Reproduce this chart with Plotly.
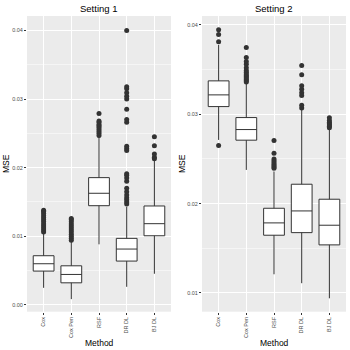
import plotly.graph_objects as go

methods = ["Cox", "Cox Pen", "RSF", "DR DL", "BJ DL"]

# Setting 1 box stats
s1_lower = [0.00248, 0.00083, 0.00882, 0.00263, 0.00453]
s1_q1 = [0.00492, 0.00321, 0.01445, 0.00638, 0.01007]
s1_median = [0.00599, 0.00443, 0.01626, 0.00813, 0.01183]
s1_q3 = [0.00716, 0.00569, 0.01854, 0.00969, 0.01441]
s1_upper = [0.01040, 0.00920, 0.02450, 0.01430, 0.02110]
s1_outliers = {
    "Cox": [0.0106, 0.0109, 0.0112, 0.0115, 0.0118, 0.0121, 0.0124, 0.0127, 0.0130, 0.0133, 0.0136, 0.0138],
    "Cox Pen": [0.0094, 0.0097, 0.0100, 0.0103, 0.0106, 0.0109, 0.0112, 0.0115, 0.0118, 0.0121, 0.0124, 0.0126],
    "RSF": [0.0247, 0.0250, 0.0253, 0.0256, 0.0259, 0.0261, 0.0263, 0.0266, 0.0268, 0.0279],
    "DR DL": [0.0147, 0.0150, 0.0153, 0.0156, 0.0160, 0.0165, 0.0170, 0.0180, 0.0185, 0.0189, 0.0191,
              0.0225, 0.0228, 0.0231, 0.0266, 0.0270, 0.0285, 0.0300, 0.0304, 0.0309, 0.0315, 0.0318, 0.0400],
    "BJ DL": [0.0213, 0.0215, 0.0220, 0.0232, 0.0245],
}

# Setting 2 box stats
s2_lower = [0.02713, 0.02377, 0.01209, 0.01109, 0.00940]
s2_q1 = [0.03086, 0.02710, 0.01646, 0.01675, 0.01538]
s2_median = [0.03217, 0.02829, 0.01784, 0.01918, 0.01758]
s2_q3 = [0.03374, 0.02963, 0.01948, 0.02217, 0.02049]
s2_upper = [0.03777, 0.03348, 0.02360, 0.03049, 0.02844]
s2_outliers = {
    "Cox": [0.02650, 0.03811, 0.03893, 0.03945],
    "Cox Pen": [0.03360, 0.03375, 0.03390, 0.03405, 0.03420, 0.03435, 0.03450, 0.03470, 0.03490,
                0.03520, 0.03560, 0.03590, 0.03635, 0.03747],
    "RSF": [0.02395, 0.02410, 0.02425, 0.02440, 0.02460, 0.02480, 0.02500, 0.02564, 0.02705],
    "DR DL": [0.03070, 0.03100, 0.03210, 0.03240, 0.03280, 0.03320, 0.03441, 0.03545],
    "BJ DL": [0.02850, 0.02865, 0.02880, 0.02895, 0.02910, 0.02930, 0.02960],
}

LINE = "#333333"
PANEL = "#EBEBEB"
TICK = "#4D4D4D"
FONT = "Liberation Sans"
SIZE = 350

fig = go.Figure()


def add_panel(xa, ya, lower, q1, med, q3, upper, outliers):
    fig.add_trace(go.Box(
        x=methods, lowerfence=lower, q1=q1, median=med, q3=q3, upperfence=upper,
        fillcolor="white", line=dict(color=LINE, width=1), width=0.75,
        whiskerwidth=0, boxpoints=False, showlegend=False, xaxis=xa, yaxis=ya,
        hoverinfo="y",
    ))
    ox, oy = [], []
    for m in methods:
        ox += [m] * len(outliers[m])
        oy += outliers[m]
    fig.add_trace(go.Scatter(
        x=ox, y=oy, mode="markers", marker=dict(color=LINE, size=5),
        showlegend=False, xaxis=xa, yaxis=ya,
    ))


add_panel("x", "y", s1_lower, s1_q1, s1_median, s1_q3, s1_upper, s1_outliers)
add_panel("x2", "y2", s2_lower, s2_q1, s2_median, s2_q3, s2_upper, s2_outliers)

xcommon = dict(
    type="category", categoryorder="array", categoryarray=methods,
    range=[-0.6, 4.6], showgrid=True, gridcolor="white", gridwidth=1.1,
    zeroline=False, ticks="outside", ticklen=2, tickcolor="#333333",
    tickangle=-90, tickfont=dict(size=5.5, color=TICK, family=FONT),
    showline=False, automargin=False,
)
ycommon = dict(
    showgrid=True, gridcolor="white", gridwidth=1.1, zeroline=False,
    ticks="outside", ticklen=2, tickcolor="#333333",
    tickfont=dict(size=5.5, color=TICK, family=FONT),
    tickformat=".2f", dtick=0.01, tick0=0,
    minor=dict(dtick=0.005, showgrid=True, gridcolor="#F5F5F5", gridwidth=0.6),
    automargin=False,
)


def px(v, axis="x"):
    # window pixel -> paper fraction
    f = v / SIZE
    return f if axis == "x" else 1 - f


ydom = [px(311.7, "y"), px(16, "y")]
title_font = dict(size=9.5, color="black", family=FONT)
lab_font = dict(size=8.5, color="black", family=FONT)


def note(text, x, y, font, angle=0):
    return dict(text=text, x=px(x), y=px(y, "y"), xref="paper", yref="paper",
                xanchor="center", yanchor="middle", showarrow=False,
                textangle=angle, font=font)


fig.update_layout(
    width=SIZE, height=SIZE,
    margin=dict(l=0, r=0, t=0, b=0),
    paper_bgcolor="white", plot_bgcolor=PANEL,
    xaxis=dict(xcommon, domain=[px(27), px(171)], anchor="y"),
    xaxis2=dict(xcommon, domain=[px(202), px(346)], anchor="y2"),
    yaxis=dict(ycommon, domain=ydom, range=[-0.001, 0.0421], anchor="x"),
    yaxis2=dict(ycommon, domain=ydom, range=[0.0079, 0.0410], anchor="x2"),
    annotations=[
        note("Setting 1", 99, 8, title_font),
        note("Setting 2", 274, 8, title_font),
        note("MSE", 6, 164, lab_font, -90),
        note("MSE", 182, 164, lab_font, -90),
        note("Method", 99, 343, lab_font),
        note("Method", 274, 343, lab_font),
    ],
)

# drop the default 8px body margin so the figure sits in the window corner
fig.write_html(
    "out.html",
    config={"displayModeBar": False},
    post_script="document.body.style.margin='0';",
)
